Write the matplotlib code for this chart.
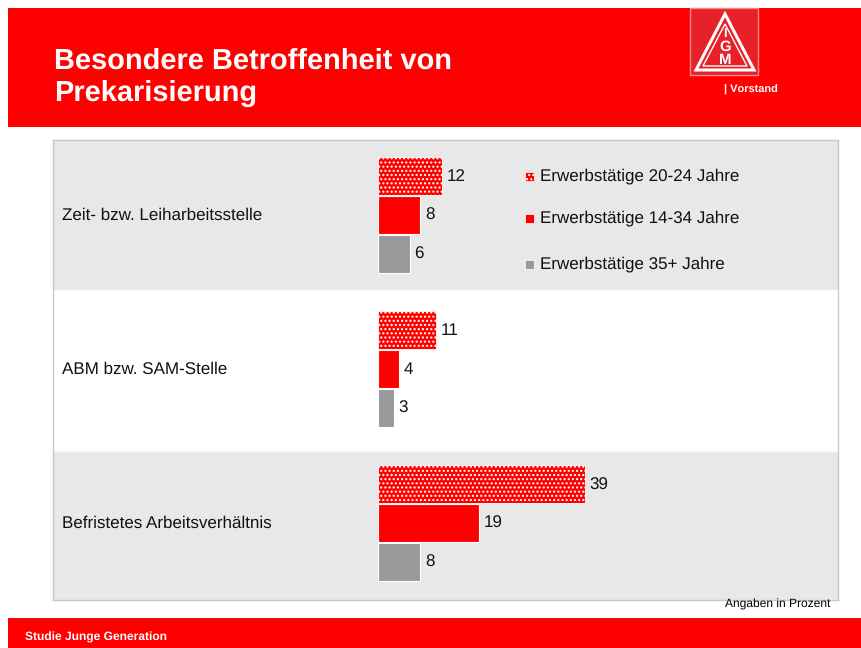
import matplotlib
matplotlib.use("Agg")
import matplotlib.pyplot as plt
from matplotlib.patches import Rectangle, Polygon
import numpy as np

plt.rcParams['font.family'] = ['Liberation Sans', 'DejaVu Sans']
plt.rcParams['text.hinting'] = 'no_hinting'
plt.rcParams['text.hinting_factor'] = 1

categories = ["Zeit- bzw. Leiharbeitsstelle", "ABM bzw. SAM-Stelle", "Befristetes Arbeitsverhältnis"]
series_names = ["Erwerbstätige 20-24 Jahre", "Erwerbstätige 14-34 Jahre", "Erwerbstätige 35+ Jahre"]
vals_20_24 = [12, 11, 39]
vals_14_34 = [8, 4, 19]
vals_35 = [6, 3, 8]

RED = "#ff0000"
GREY = "#999999"
W, H = 861, 648
fig = plt.figure(figsize=(W / 100, H / 100), dpi=100)
fig.patch.set_facecolor("white")

# background axes in pixel coords
bg = fig.add_axes([0, 0, 1, 1])
bg.set_xlim(0, W)
bg.set_ylim(H, 0)
bg.axis("off")
bg.add_patch(Rectangle((8, 8), W - 8, 119, fc=RED, ec="none"))
bg.add_patch(Rectangle((8, 618), W - 8, 30, fc=RED, ec="none"))
bg.text(54, 61, "Besondere Betroffenheit von", color="white", fontsize=21,
        fontweight="bold", va="center", ha="left")
bg.text(54, 93, "Prekarisierung", color="white", fontsize=21,
        fontweight="bold", va="center", ha="left")
# logo
bg.add_patch(Rectangle((690, 8), 68, 67, fc="#e8202a", ec="#f08a8e", lw=1))
bg.add_patch(Polygon([(725, 14), (696, 70), (754, 70)], closed=True, fc="none", ec="white", lw=2.2))
bg.add_patch(Polygon([(725, 24), (703, 66), (747, 66)], closed=True, fc="none", ec="white", lw=1.0))
bg.text(725, 34, "I", color="white", fontsize=9, fontweight="bold", ha="center", va="center")
bg.text(725, 47, "G", color="white", fontsize=11, fontweight="bold", ha="center", va="center")
bg.text(725, 60, "M", color="white", fontsize=11, fontweight="bold", ha="center", va="center")
bg.text(724, 90, "| Vorstand", color="white", fontsize=8.2, fontweight="bold", ha="left", va="center")
bg.text(25, 637, "Studie Junge Generation", color="white", fontsize=8.6, fontweight="bold",
        ha="left", va="center")
bg.text(830, 604, "Angaben in Prozent", color="black", fontsize=8.3, ha="right", va="center")

# chart panel
x0, x1, y0, y1 = 53, 838, 140, 600
ax = fig.add_axes([x0 / W, 1 - y1 / H, (x1 - x0) / W, (y1 - y0) / H])
ppu = 5.3
ax.set_xlim(-(378 - x0) / ppu, (x1 - 378) / ppu)
ax.set_ylim(2.5, -0.487)
ax.set_facecolor("white")
ax.axhspan(-0.487, 0.48, color="#e8e8e8", zorder=0)
ax.axhspan(1.54, 2.5, color="#e8e8e8", zorder=0)
for s in ax.spines.values():
    s.set_color("#c8c8c8")
    s.set_linewidth(1)
ax.set_xticks([])
ax.set_yticks([])

y = np.arange(len(categories))
h = 0.245
off = 0.252
b1 = ax.barh(y - off, vals_20_24, height=h, color=RED, edgecolor="white", hatch="....", lw=0.6, zorder=2)
b2 = ax.barh(y, vals_14_34, height=h, color=RED, edgecolor="white", lw=0.8, zorder=2)
b3 = ax.barh(y + off, vals_35, height=h, color=GREY, edgecolor="white", lw=0.8, zorder=2)
for bars, vals in [(b1, vals_20_24), (b2, vals_14_34), (b3, vals_35)]:
    for bar, v in zip(bars, vals):
        ax.text(v + 0.9, bar.get_y() + bar.get_height() / 2 + 0.005, str(v), fontsize=12,
                va="center", ha="left", color="#111111")
for yi, cat in zip(y, categories):
    ax.text(-(378 - 62) / ppu, yi, cat, fontsize=11.9, va="center", ha="left", color="#111111")

# legend
leg_y = [176, 218, 264]
leg_colors = [RED, RED, GREY]
leg_hatch = ["....", None, None]
for ly, nm, c, hz in zip(leg_y, series_names, leg_colors, leg_hatch):
    bg.add_patch(Rectangle((525, ly - 4.5), 9, 9, fc=c, ec="white", hatch=hz, lw=0.5, zorder=5))
    bg.text(540, ly, nm, fontsize=12, va="center", ha="left", color="#111111", zorder=5)
bg.set_zorder(3)
bg.patch.set_visible(False)

fig.savefig("out.png", dpi=100)
